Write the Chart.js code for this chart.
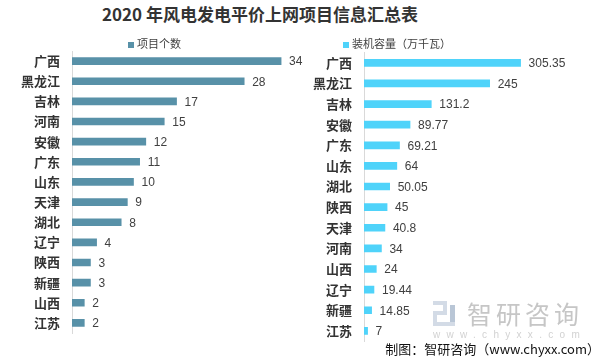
<!DOCTYPE html>
<html><head><meta charset="utf-8">
<script src="https://cdn.jsdelivr.net/npm/chart.js@4/dist/chart.umd.min.js"></script>
<style>
body{margin:0;width:603px;height:361px;position:relative;background:#fff;overflow:hidden;font-family:"Noto Sans CJK SC",sans-serif;}
#title{position:absolute;left:0;width:520px;top:3px;line-height:22px;text-align:center;font-weight:bold;font-size:17px;color:#333;}
#c1{position:absolute;left:0;top:0;}
#c2{position:absolute;left:300px;top:0;}
#foot{position:absolute;right:3px;top:341px;line-height:16px;font-size:13px;color:#111;white-space:nowrap;}
#wm1{position:absolute;left:467px;top:298px;font-size:25px;line-height:30px;color:#c6c6c6;letter-spacing:4px;}
#wm2{position:absolute;left:433px;top:329px;font-family:"Liberation Sans",sans-serif;font-size:10px;line-height:12px;color:#d2d2d2;letter-spacing:6.3px;}
#logo{position:absolute;left:433px;top:301px;width:22px;height:25px;}
#logo div{position:absolute;background:#d3dbe6;}
</style></head>
<body>
<div id="title">2020 年风电发电平价上网项目信息汇总表</div>
<canvas id="c1" width="320" height="361"></canvas>
<canvas id="c2" width="303" height="361"></canvas>
<div id="logo"><div style="left:0;top:0;width:14px;height:4px"></div><div style="left:10px;top:0;width:4px;height:12px"></div><div style="left:0;top:10px;width:14px;height:4px"></div><div style="left:0;top:10px;width:4px;height:15px"></div><div style="left:0;top:21px;width:22px;height:4px"></div><div style="left:17px;top:4px;width:5px;height:17px;background:#b9c6d6"></div></div>
<div id="wm1">智研咨询</div>
<div id="wm2">www.chyxx.com</div>
<div id="foot">制图：智研咨询（www.chyxx.com）</div>
<script>
const countCategories = ['广西','黑龙江','吉林','河南','安徽','广东','山东','天津','湖北','辽宁','陕西','新疆','山西','江苏'];
const countValues = [34,28,17,15,12,11,10,9,8,4,3,3,2,2];
const capCategories = ['广西','黑龙江','吉林','安徽','广东','山东','湖北','陕西','天津','河南','山西','辽宁','新疆','江苏'];
const capValues = [305.35,245,131.2,89.77,69.21,64,50.05,45,40.8,34,24,19.44,14.85,7];
const countLabel = '项目个数';
const capLabel = '装机容量（万千瓦）';

const valueLabels = {
  id:'valueLabels',
  afterDatasetsDraw(chart){
    const ctx = chart.ctx; ctx.save();
    ctx.font = '12px "Liberation Sans", Arial, sans-serif';
    ctx.fillStyle = '#404040'; ctx.textBaseline = 'middle'; ctx.textAlign = 'left';
    chart.data.datasets.forEach((ds,i)=>{
      chart.getDatasetMeta(i).data.forEach((el,j)=>{
        ctx.fillText(String(ds.data[j]), el.x + 8, el.y + 1);
      });
    });
    ctx.restore();
  }
};
const customLegend = {
  id:'customLegend',
  afterDraw(chart, args, opts){
    const ctx = chart.ctx; const ds = chart.data.datasets[0];
    ctx.save();
    ctx.fillStyle = ds.backgroundColor;
    ctx.fillRect(opts.x, opts.y - 2, 6, 6);
    ctx.font = '11px "Noto Sans CJK SC", sans-serif';
    ctx.fillStyle = '#404040'; ctx.textBaseline = 'middle'; ctx.textAlign = 'left';
    ctx.fillText(ds.label, opts.x + 9, opts.y);
    ctx.restore();
  }
};

function makeChart(id, cats, vals, label, color, axisWidth, xmax, pad, legendPos){
  return new Chart(document.getElementById(id), {
    type:'bar',
    data:{labels:cats, datasets:[{label:label, data:vals, backgroundColor:color, barThickness:7}]},
    options:{
      indexAxis:'y', responsive:false, animation:false,
      layout:{padding:pad},
      plugins:{legend:{display:false}, tooltip:{enabled:false}, customLegend:legendPos},
      scales:{
        x:{display:false, min:0, max:xmax},
        y:{
          afterFit:(s)=>{ s.width = axisWidth; },
          grid:{display:false, drawTicks:false},
          border:{display:true, color:'#d9d9d9', width:1},
          ticks:{padding:12, color:'#333', font:{family:'"Noto Sans CJK SC", sans-serif', size:13, weight:'bold'}}
        }
      }
    },
    plugins:[valueLabels, customLegend]
  });
}
makeChart('c1', countCategories, countValues, countLabel, '#5891A8', 72, 36, {top:51,bottom:28,left:0,right:26.6}, {x:128,y:44});
makeChart('c2', capCategories, capValues, capLabel, '#4FD3FA', 64, 388, {top:52.5,bottom:14.5,left:0,right:40}, {x:43,y:44});
</script>
</body></html>
